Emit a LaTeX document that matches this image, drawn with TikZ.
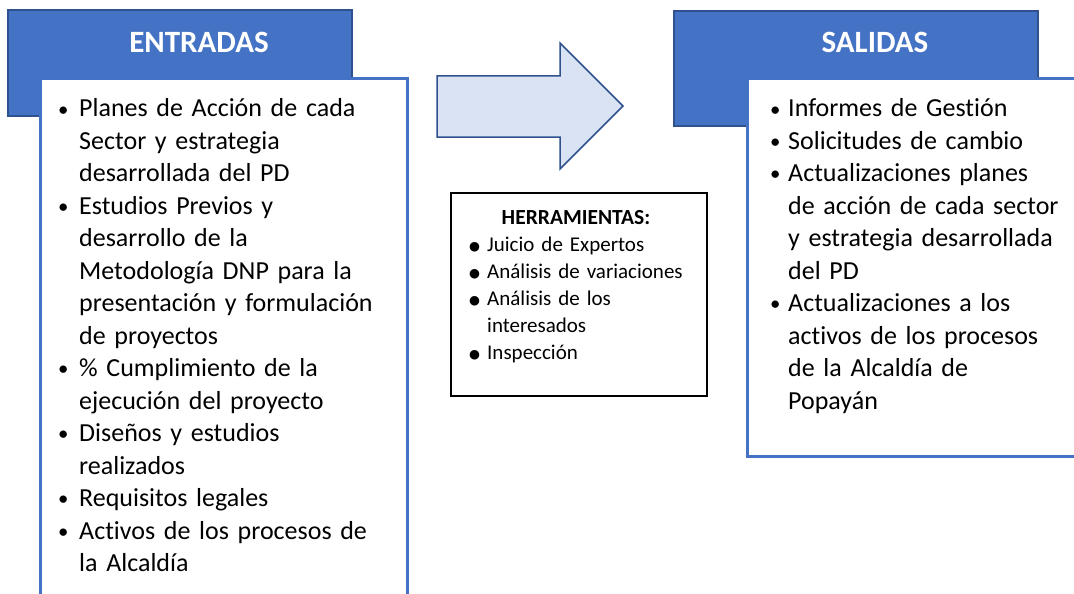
\documentclass[tikz,border=0pt]{standalone}
\usepackage{fontspec}
\setmainfont[Ligatures=NoCommon]{Carlito}
\newfontfamily\symfont{DejaVu Sans}
\usepackage{xcolor}
\usetikzlibrary{calc}

\definecolor{hdrblue}{HTML}{4472C4}
\definecolor{hdredge}{HTML}{2F528F}
\definecolor{arrowfill}{HTML}{DAE3F3}

\newcommand{\itm}[2]{\hangindent=#1\hangafter=1\makebox[#1][l]{\hspace{1.5pt}\raisebox{1pt}{\scalebox{0.8}{\textbullet}}}#2\par}
\newcommand{\ditm}[2]{\hangindent=#1\hangafter=1\makebox[#1][l]{\raisebox{1pt}{\symfont\fontsize{12.5}{12.5}\selectfont ●}}#2\par}

\tikzset{
	header/.style={fill=hdrblue, draw=hdredge, line width=1.5pt},
	listbox/.style={fill=white, draw=hdrblue, line width=3pt},
	title/.style={font=\bfseries\fontsize{31}{31}\selectfont, text=white, anchor=base, inner sep=0pt},
	biglist/.style={font=\fontsize{26}{32.5}\selectfont, anchor=base west, inner sep=0pt, align=left},
	smalllist/.style={font=\fontsize{21}{27}\selectfont, anchor=base west, inner sep=0pt, align=left, text width=240pt}
}

\begin{document}
\begin{tikzpicture}[x=1pt, y=-1pt]
		\def\hl{22.5pt};
		\def\hr{19.5pt};
		\def\hh{18pt};

		\useasboundingbox (0,0) rectangle (1074,594);
		\clip (0,0) rectangle (1074,594);

		\begin{scope}
			\draw[header] (8,10) rectangle (352,116);
			\draw[listbox] (40,79) rectangle (407,620);
			\node[title] (entradas) at (199,53) {ENTRADAS};
		\end{scope}

		\begin{scope}
			\draw[header] (674,11) rectangle (1038,126);
			\draw[listbox] (747,79) rectangle (1090,456);
			\node[title] (salidas) at (875,53) {SALIDAS};
		\end{scope}

		\draw[fill=arrowfill, draw=hdredge, line width=1.5pt, line join=miter]
			(437,76) -- (560,76) -- (560,43) -- (623,106) -- (560,169) -- (560,137) -- (437,137) -- cycle;

		\draw[line width=1.3pt] (451,193) rectangle (707,396);

		\node[biglist, text width=360pt] (inlist) at (56.5,117) {%
			\itm{\hl}{Planes de Acción de cada\newline Sector y estrategia\newline desarrollada del PD}%
			\itm{\hl}{Estudios Previos y\newline desarrollo de la\newline Metodología DNP para la\newline presentación y formulación\newline de proyectos}%
			\itm{\hl}{\% Cumplimiento de la\newline ejecución del proyecto}%
			\itm{\hl}{Diseños y estudios\newline realizados}%
			\itm{\hl}{Requisitos legales}%
			\itm{\hl}{Activos de los procesos de\newline la Alcaldía}};

		\node[biglist, text width=310pt] (outlist) at (768.5,117) {%
			\itm{\hr}{Informes de Gestión}%
			\itm{\hr}{Solicitudes de cambio}%
			\itm{\hr}{Actualizaciones planes\newline de acción de cada sector\newline y estrategia desarrollada\newline del PD}%
			\itm{\hr}{Actualizaciones a los\newline activos de los procesos\newline de la Alcaldía de\newline Popayán}};

		\node[font=\bfseries\fontsize{21.5}{21.5}\selectfont, anchor=base, inner sep=0pt] (herr) at (576,224) {HERRAMIENTAS:};

		\node[smalllist] (herrlist) at (469,251) {%
			\ditm{\hh}{Juicio de Expertos}%
			\ditm{\hh}{Análisis de variaciones}%
			\ditm{\hh}{Análisis de los\newline interesados}%
			\ditm{\hh}{Inspección}};
	\end{tikzpicture}
\end{document}
